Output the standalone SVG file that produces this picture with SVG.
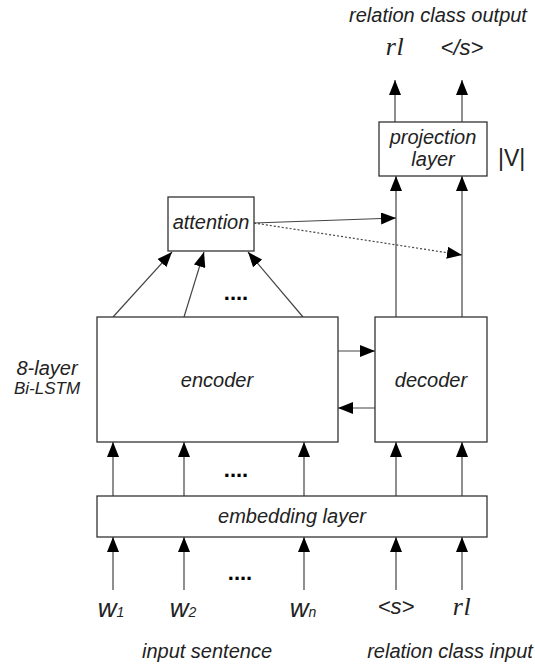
<svg xmlns="http://www.w3.org/2000/svg" width="535" height="667" viewBox="0 0 535 667">
<style>
.box{fill:#fff;stroke:#333;stroke-width:1.3}
.t{font-family:"Liberation Sans",Arial,sans-serif;font-style:italic;fill:#222;text-anchor:middle}
.m{font-family:"Liberation Serif","Times New Roman",serif;font-style:italic;fill:#222;text-anchor:middle}
.ln{stroke:#444;stroke-width:1.2;fill:none;marker-end:url(#ah)}
.dots{font-family:"Liberation Sans",Arial,sans-serif;font-weight:bold;fill:#000;text-anchor:middle;font-size:22px}
</style>
<defs>
<marker id="ah" markerUnits="userSpaceOnUse" markerWidth="15" markerHeight="12" refX="15" refY="6" orient="auto">
<path d="M0,0 L15,6 L0,12 z" fill="#000"/>
</marker>
</defs>
<rect width="535" height="667" fill="#fff"/>
<g id="connectors">
<line class="ln" x1="113" y1="590" x2="113" y2="537"/>
<line class="ln" x1="184" y1="590" x2="184" y2="537"/>
<line class="ln" x1="304" y1="590" x2="304" y2="537"/>
<line class="ln" x1="396" y1="590" x2="396" y2="537"/>
<line class="ln" x1="462" y1="590" x2="462" y2="537"/>
<line class="ln" x1="113" y1="496" x2="113" y2="442"/>
<line class="ln" x1="184" y1="496" x2="184" y2="442"/>
<line class="ln" x1="304" y1="496" x2="304" y2="442"/>
<line class="ln" x1="396" y1="496" x2="396" y2="442"/>
<line class="ln" x1="462" y1="496" x2="462" y2="442"/>
<line class="ln" x1="113" y1="317" x2="172" y2="252"/>
<line class="ln" x1="184" y1="317" x2="204" y2="252"/>
<line class="ln" x1="303" y1="317" x2="248" y2="252"/>
<line class="ln" x1="338" y1="351" x2="375" y2="351"/>
<line class="ln" x1="375" y1="408" x2="338" y2="408"/>
<line class="ln" x1="396" y1="317" x2="396" y2="176"/>
<line class="ln" x1="462" y1="317" x2="462" y2="176"/>
<line class="ln" x1="254" y1="223" x2="396" y2="218"/>
<line class="ln" x1="254" y1="223" x2="462" y2="255" stroke-dasharray="2,2"/>
<line class="ln" x1="395" y1="122" x2="395" y2="80"/>
<line class="ln" x1="462" y1="122" x2="462" y2="80"/>
</g>
<g id="embedding">
<rect class="box" x="97" y="496" width="390" height="41"/>
<text class="t" x="292" y="523" font-size="20">embedding layer</text>
</g>
<g id="encoder">
<rect class="box" x="97" y="317" width="241" height="125"/>
<text class="t" x="217" y="387" font-size="20">encoder</text>
</g>
<g id="decoder">
<rect class="box" x="375" y="317" width="112" height="125"/>
<text class="t" x="431" y="387" font-size="20">decoder</text>
</g>
<g id="attention">
<rect class="box" x="168" y="197" width="86" height="54"/>
<text class="t" x="211" y="229" font-size="20">attention</text>
</g>
<g id="projection">
<rect class="box" x="379" y="122" width="108" height="54"/>
<text class="t" x="433" y="144" font-size="20">projection</text>
<text class="t" x="433" y="166" font-size="20">layer</text>
</g>
<g id="labels">
<text class="t" x="438" y="22" font-size="20">relation class output</text>
<text class="m" x="395" y="55" font-size="26" letter-spacing="0.5">rl</text>
<text class="t" x="462" y="55" font-size="22">&lt;/s&gt;</text>
<text x="498" y="166" font-family="Liberation Sans,Arial,sans-serif" font-size="23" fill="#222">|V|</text>
<text class="t" x="47" y="375" font-size="20">8-layer</text>
<text class="t" x="47" y="394" font-size="17">Bi-LSTM</text>
<text class="dots" x="236" y="300">....</text>
<text class="dots" x="236" y="477">....</text>
<text class="dots" x="240" y="580">....</text>
<text class="t" x="111" y="617" font-size="26">w<tspan font-size="14">1</tspan></text>
<text class="t" x="183" y="617" font-size="26">w<tspan font-size="14">2</tspan></text>
<text class="t" x="303" y="617" font-size="26">w<tspan font-size="14">n</tspan></text>
<text class="t" x="396" y="614" font-size="22">&lt;s&gt;</text>
<text class="m" x="462" y="615" font-size="26" letter-spacing="0.5">rl</text>
<text class="t" x="207" y="658" font-size="20">input sentence</text>
<text class="t" x="450" y="658" font-size="20">relation class input</text>
</g>
</svg>
